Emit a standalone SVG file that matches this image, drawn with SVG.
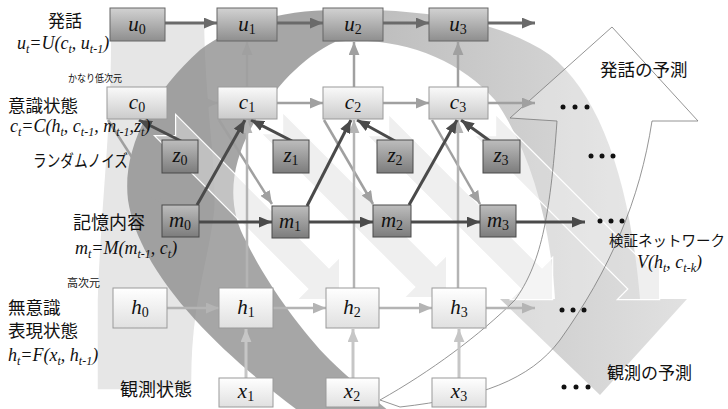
<svg xmlns="http://www.w3.org/2000/svg" width="728" height="409" viewBox="0 0 728 409">
<defs>
<linearGradient id="gU" x1="0" y1="0" x2="0" y2="1"><stop offset="0" stop-color="#d2d2d2"/><stop offset="1" stop-color="#8e8e8e"/></linearGradient>
<linearGradient id="gC" x1="0" y1="0" x2="0" y2="1"><stop offset="0" stop-color="#fafafa"/><stop offset="1" stop-color="#cbcbcb"/></linearGradient>
<linearGradient id="gZ" x1="0" y1="0" x2="0" y2="1"><stop offset="0" stop-color="#bdbdbd"/><stop offset="1" stop-color="#7c7c7c"/></linearGradient>
<linearGradient id="gH" x1="0" y1="0" x2="0" y2="1"><stop offset="0" stop-color="#ffffff"/><stop offset="1" stop-color="#e0e0e0"/></linearGradient>
<linearGradient id="gArch" x1="335" y1="0" x2="690" y2="0" gradientUnits="userSpaceOnUse"><stop offset="0" stop-color="#adadad"/><stop offset="1" stop-color="#dcdcdc"/></linearGradient>
<marker id="aU" viewBox="0 0 12 10" refX="12" refY="5" markerWidth="13" markerHeight="11" orient="auto" markerUnits="userSpaceOnUse"><path d="M0,0 L12,5 L0,10 z" fill="#6a6a6a"/></marker>
<marker id="aM" viewBox="0 0 12 10" refX="12" refY="5" markerWidth="13" markerHeight="11" orient="auto" markerUnits="userSpaceOnUse"><path d="M0,0 L12,5 L0,10 z" fill="#4a4a4a"/></marker>
<marker id="aC" viewBox="0 0 12 10" refX="12" refY="5" markerWidth="13" markerHeight="11" orient="auto" markerUnits="userSpaceOnUse"><path d="M0,0 L12,5 L0,10 z" fill="#a0a0a0"/></marker>
<marker id="aH" viewBox="0 0 12 10" refX="12" refY="5" markerWidth="13" markerHeight="11" orient="auto" markerUnits="userSpaceOnUse"><path d="M0,0 L12,5 L0,10 z" fill="#b4b4b4"/></marker>
<marker id="aX" viewBox="0 0 12 10" refX="12" refY="5" markerWidth="13" markerHeight="11" orient="auto" markerUnits="userSpaceOnUse"><path d="M0,0 L12,5 L0,10 z" fill="#c6c6c6"/></marker>
<polygon id="dg" points="0,-15 217,-15 217,-30 247,0 217,30 217,15 0,15 15,0"/>
</defs>
<style>
.cjk{font-family:"Noto Sans CJK JP","Noto Sans",sans-serif;fill:#111}
.f{font-family:"Liberation Serif","Times New Roman",serif;font-style:italic;font-size:18px;fill:#111}
.s{font-size:12px}
.nl{font-family:"Liberation Serif","Times New Roman",serif;font-style:italic;font-size:21px;fill:#111;text-anchor:middle}
.nd{font-size:14px;font-style:normal}
.bu{fill:url(#gU);stroke:#666;stroke-width:1}
.bc{fill:url(#gC);stroke:#9a9a9a;stroke-width:1}
.bz{fill:url(#gZ);stroke:#4a4a4a;stroke-width:1}
.bh{fill:url(#gH);stroke:#9a9a9a;stroke-width:1}
.dg{fill:#e0e0e0;fill-opacity:.5;stroke:#fff;stroke-width:1.2}
.cu{stroke:#6a6a6a;stroke-width:3;fill:none;marker-end:url(#aU)}
.cm{stroke:#4a4a4a;stroke-width:3;fill:none;marker-end:url(#aM)}
.cc{stroke:#a0a0a0;stroke-width:2.5;fill:none;marker-end:url(#aC)}
.ch{stroke:#b4b4b4;stroke-width:2.5;fill:none;marker-end:url(#aH)}
.cx{stroke:#c6c6c6;stroke-width:3;fill:none;marker-end:url(#aX)}
</style>
<rect width="728" height="409" fill="#fff"/>
<g id="background">
<path d="M97,390 L97,300 C100,200 112,120 110,23 L205,23 C205,100 218,170 215,210 C210,260 192,300 192,380 L192,390 Z" fill="#dedede" fill-opacity=".75" stroke="#fff" stroke-width="1.5"/>
<path d="M300,412 C230,360 140,280 128,200 C122,150 150,95 200,50 C240,20 290,10 335,10 L335,42 C300,58 268,95 250,130 C232,165 225,205 247,243 C265,280 300,330 330,360 C350,380 370,395 390,412 Z" fill="#888" fill-opacity=".75"/>
<path d="M335,10 C420,8 500,20 550,55 C600,95 630,180 640,299 L687,299 L600,395 L500,299 L555,299 C550,220 530,150 495,100 C460,60 400,35 335,42 Z" fill="url(#gArch)" fill-opacity=".85"/>
<use href="#dg" class="dg" transform="translate(165,125) rotate(45)"/>
<use href="#dg" class="dg" transform="translate(272,123) rotate(45)"/>
<use href="#dg" class="dg" transform="translate(378,125) rotate(45)"/>
<use href="#dg" class="dg" transform="translate(485,125) rotate(45)"/>
<path d="M380,400 C430,372 480,335 515,300 C540,265 550,220 557,121 L510,118 L612,27 L698,121 L652,121 C640,200 610,270 560,340 C530,380 480,398 400,407 Z" fill="#fff" fill-opacity=".3" stroke="#7a7a7a" stroke-width=".8"/>
</g>
<g id="connectors">
<line class="cu" x1="164" y1="23" x2="217" y2="23"/>
<line class="cu" x1="277" y1="23" x2="323" y2="23"/>
<line class="cu" x1="383" y1="23" x2="429" y2="23"/>
<line class="cu" x1="488" y1="23" x2="535" y2="23"/>
<line class="cc" x1="247" y1="87" x2="247" y2="42"/>
<line class="cc" x1="354" y1="87" x2="354" y2="42"/>
<line class="cc" x1="458" y1="87" x2="458" y2="42"/>
<line class="cc" x1="167" y1="103" x2="218" y2="103"/>
<line class="cc" x1="277" y1="103" x2="323" y2="103"/>
<line class="cc" x1="383" y1="103" x2="429" y2="103"/>
<line class="cc" x1="488" y1="103" x2="535" y2="103"/>
<line class="cc" x1="108" y1="120" x2="162" y2="204"/>
<line class="cc" x1="219" y1="120" x2="272" y2="204"/>
<line class="cc" x1="324" y1="120" x2="373" y2="204"/>
<line class="cc" x1="432" y1="120" x2="480" y2="204"/>
<line class="ch" x1="247" y1="288" x2="247" y2="120"/>
<line class="ch" x1="354" y1="288" x2="354" y2="120"/>
<line class="ch" x1="458" y1="288" x2="458" y2="120"/>
<line class="cm" x1="199" y1="222" x2="272" y2="222"/>
<line class="cm" x1="309" y1="222" x2="373" y2="222"/>
<line class="cm" x1="411" y1="222" x2="480" y2="222"/>
<line class="cm" x1="516" y1="222" x2="585" y2="222"/>
<line class="cm" x1="197" y1="205" x2="245" y2="120"/>
<line class="cm" x1="307" y1="206" x2="351" y2="120"/>
<line class="cm" x1="409" y1="205" x2="457" y2="120"/>
<line class="cm" x1="181" y1="141" x2="139" y2="120"/>
<line class="cm" x1="292" y1="141" x2="251" y2="120"/>
<line class="cm" x1="395" y1="141" x2="357" y2="120"/>
<line class="cm" x1="490" y1="141" x2="461" y2="120"/>
<line class="ch" x1="167" y1="308" x2="219" y2="308"/>
<line class="ch" x1="273" y1="308" x2="326" y2="308"/>
<line class="ch" x1="379" y1="308" x2="432" y2="308"/>
<line class="ch" x1="486" y1="308" x2="535" y2="308"/>
<line class="cx" x1="246" y1="378" x2="246" y2="329"/>
<line class="cx" x1="353" y1="378" x2="353" y2="329"/>
<line class="cx" x1="459" y1="378" x2="459" y2="329"/>
</g>
<g id="u0"><rect class="bu" x="110" y="8" width="55" height="33"/><text class="nl" x="137" y="31">u<tspan class="nd" dy="3">0</tspan></text></g>
<g id="u1"><rect class="bu" x="217" y="8" width="60" height="33"/><text class="nl" x="247" y="31">u<tspan class="nd" dy="3">1</tspan></text></g>
<g id="u2"><rect class="bu" x="323" y="8" width="60" height="33"/><text class="nl" x="353" y="31">u<tspan class="nd" dy="3">2</tspan></text></g>
<g id="u3"><rect class="bu" x="429" y="8" width="59" height="33"/><text class="nl" x="458" y="31">u<tspan class="nd" dy="3">3</tspan></text></g>
<g id="c0"><rect class="bc" x="107" y="87" width="60" height="32"/><text class="nl" x="137" y="109">c<tspan class="nd" dy="3">0</tspan></text></g>
<g id="c1"><rect class="bc" x="218" y="87" width="59" height="32"/><text class="nl" x="247" y="109">c<tspan class="nd" dy="3">1</tspan></text></g>
<g id="c2"><rect class="bc" x="323" y="87" width="60" height="32"/><text class="nl" x="353" y="109">c<tspan class="nd" dy="3">2</tspan></text></g>
<g id="c3"><rect class="bc" x="429" y="87" width="59" height="32"/><text class="nl" x="458" y="109">c<tspan class="nd" dy="3">3</tspan></text></g>
<g id="z0"><rect class="bz" x="162" y="140" width="36" height="33"/><text class="nl" x="180" y="162">z<tspan class="nd" dy="3">0</tspan></text></g>
<g id="z1"><rect class="bz" x="273" y="140" width="36" height="33"/><text class="nl" x="291" y="162">z<tspan class="nd" dy="3">1</tspan></text></g>
<g id="z2"><rect class="bz" x="377" y="140" width="36" height="33"/><text class="nl" x="395" y="162">z<tspan class="nd" dy="3">2</tspan></text></g>
<g id="z3"><rect class="bz" x="483" y="140" width="37" height="33"/><text class="nl" x="501" y="162">z<tspan class="nd" dy="3">3</tspan></text></g>
<g id="m0"><rect class="bz" x="162" y="205" width="37" height="32"/><text class="nl" x="180" y="227">m<tspan class="nd" dy="3">0</tspan></text></g>
<g id="m1"><rect class="bz" x="272" y="206" width="37" height="32"/><text class="nl" x="290" y="228">m<tspan class="nd" dy="3">1</tspan></text></g>
<g id="m2"><rect class="bz" x="373" y="205" width="38" height="32"/><text class="nl" x="392" y="227">m<tspan class="nd" dy="3">2</tspan></text></g>
<g id="m3"><rect class="bz" x="480" y="205" width="36" height="32"/><text class="nl" x="498" y="227">m<tspan class="nd" dy="3">3</tspan></text></g>
<g id="h0"><rect class="bh" x="113" y="288" width="54" height="40"/><text class="nl" x="140" y="314">h<tspan class="nd" dy="3">0</tspan></text></g>
<g id="h1"><rect class="bh" x="219" y="288" width="54" height="40"/><text class="nl" x="246" y="314">h<tspan class="nd" dy="3">1</tspan></text></g>
<g id="h2"><rect class="bh" x="326" y="288" width="53" height="40"/><text class="nl" x="352" y="314">h<tspan class="nd" dy="3">2</tspan></text></g>
<g id="h3"><rect class="bh" x="432" y="288" width="54" height="40"/><text class="nl" x="459" y="314">h<tspan class="nd" dy="3">3</tspan></text></g>
<g id="x1"><rect class="bh" x="219" y="378" width="54" height="29"/><text class="nl" x="246" y="398">x<tspan class="nd" dy="3">1</tspan></text></g>
<g id="x2"><rect class="bh" x="326" y="378" width="53" height="29"/><text class="nl" x="352" y="398">x<tspan class="nd" dy="3">2</tspan></text></g>
<g id="x3"><rect class="bh" x="432" y="378" width="54" height="29"/><text class="nl" x="459" y="398">x<tspan class="nd" dy="3">3</tspan></text></g>
<g id="dots" fill="#111">
<circle cx="563" cy="107" r="2.5"/><circle cx="575" cy="107" r="2.5"/><circle cx="587" cy="107" r="2.5"/>
<circle cx="591" cy="156" r="2.5"/><circle cx="602" cy="156" r="2.5"/><circle cx="613" cy="156" r="2.5"/>
<circle cx="600" cy="221" r="2.5"/><circle cx="611" cy="221" r="2.5"/><circle cx="622" cy="221" r="2.5"/>
<circle cx="562" cy="310" r="2.5"/><circle cx="573" cy="310" r="2.5"/><circle cx="584" cy="310" r="2.5"/>
<circle cx="564" cy="387" r="2.5"/><circle cx="576" cy="387" r="2.5"/><circle cx="588" cy="387" r="2.5"/>
</g>
<g id="labels">
<text class="cjk" x="48" y="27" font-size="17">発話</text>
<text class="f" x="17" y="49">u<tspan class="s" dy="4">t</tspan><tspan dy="-4">=U(c</tspan><tspan class="s" dy="4">t</tspan><tspan dy="-4">, u</tspan><tspan class="s" dy="4">t-1</tspan><tspan dy="-4">)</tspan></text>
<text class="cjk" x="68" y="82" font-size="10.5" textLength="54" lengthAdjust="spacingAndGlyphs">かなり低次元</text>
<text class="cjk" x="8" y="112" font-size="17.5">意識状態</text>
<text class="f" x="10" y="132">c<tspan class="s" dy="4">t</tspan><tspan dy="-4">=C(h</tspan><tspan class="s" dy="4">t</tspan><tspan dy="-4">, c</tspan><tspan class="s" dy="4">t-1</tspan><tspan dy="-4">, m</tspan><tspan class="s" dy="4">t-1</tspan><tspan dy="-4">,z</tspan><tspan class="s" dy="4">t</tspan><tspan dy="-4">)</tspan></text>
<text class="cjk" x="33" y="167" font-size="17" textLength="95" lengthAdjust="spacingAndGlyphs">ランダムノイズ</text>
<text class="cjk" x="73" y="229" font-size="18">記憶内容</text>
<text class="f" x="75" y="254">m<tspan class="s" dy="4">t</tspan><tspan dy="-4">=M(m</tspan><tspan class="s" dy="4">t-1</tspan><tspan dy="-4">, c</tspan><tspan class="s" dy="4">t</tspan><tspan dy="-4">)</tspan></text>
<text class="cjk" x="67" y="287" font-size="11">高次元</text>
<text class="cjk" x="8" y="314" font-size="17.5">無意識</text>
<text class="cjk" x="8" y="337" font-size="17.5">表現状態</text>
<text class="f" x="8" y="361">h<tspan class="s" dy="4">t</tspan><tspan dy="-4">=F(x</tspan><tspan class="s" dy="4">t</tspan><tspan dy="-4">, h</tspan><tspan class="s" dy="4">t-1</tspan><tspan dy="-4">)</tspan></text>
<text class="cjk" x="120" y="396" font-size="18">観測状態</text>
<text class="cjk" x="600" y="76" font-size="17.5">発話の予測</text>
<text class="cjk" x="609" y="246" font-size="14.5">検証ネットワーク</text>
<text class="f" x="637" y="268">V(h<tspan class="s" dy="4">t</tspan><tspan dy="-4">, c</tspan><tspan class="s" dy="4">t-k</tspan><tspan dy="-4">)</tspan></text>
<text class="cjk" x="607" y="379" font-size="17">観測の予測</text>
</g>
</svg>
